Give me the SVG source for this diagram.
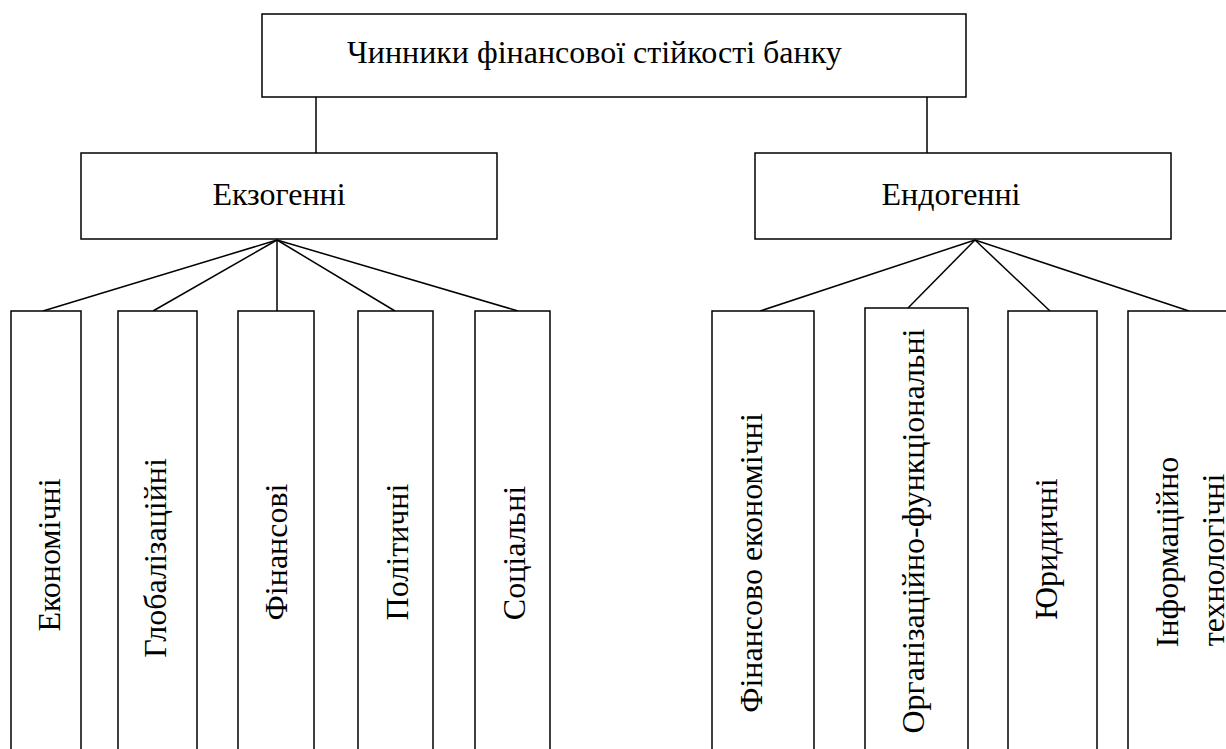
<svg xmlns="http://www.w3.org/2000/svg" width="1226" height="749" viewBox="0 0 1226 749">
<style>
.box{fill:#fff;stroke:#000;stroke-width:1.5}
.t{font-family:"Liberation Serif","Times New Roman",serif;font-size:32px;fill:#000}
.c{stroke:#000;stroke-width:1.5;fill:none}
</style>
<rect width="1226" height="749" fill="#fff"/>
<g id="connectors">
<line class="c" x1="316" y1="97" x2="316" y2="153"/>
<line class="c" x1="927" y1="97" x2="927" y2="153"/>
<line class="c" x1="277" y1="240" x2="43" y2="311"/>
<line class="c" x1="277" y1="240" x2="153" y2="311"/>
<line class="c" x1="277" y1="240" x2="277" y2="311"/>
<line class="c" x1="277" y1="240" x2="395" y2="311"/>
<line class="c" x1="277" y1="240" x2="518" y2="311"/>
<line class="c" x1="975" y1="240" x2="760" y2="311"/>
<line class="c" x1="975" y1="240" x2="908" y2="308"/>
<line class="c" x1="975" y1="240" x2="1050" y2="311"/>
<line class="c" x1="975" y1="240" x2="1189" y2="311"/>
</g>
<g id="root">
<rect class="box" x="262" y="14" width="704" height="83"/>
<text class="t" x="347" y="63">Чинники фінансової стійкості банку</text>
</g>
<g id="exo">
<rect class="box" x="81" y="153" width="416" height="86"/>
<text class="t" x="279" y="205" text-anchor="middle">Екзогенні</text>
</g>
<g id="endo">
<rect class="box" x="755" y="153" width="416" height="86"/>
<text class="t" x="951" y="205" text-anchor="middle">Ендогенні</text>
</g>
<g id="econ">
<rect class="box" x="11" y="311" width="70" height="460"/>
<text class="t" transform="translate(60,555) rotate(-90)" text-anchor="middle">Економічні</text>
</g>
<g id="glob">
<rect class="box" x="118" y="311" width="79" height="460"/>
<text class="t" transform="translate(166,558) rotate(-90)" text-anchor="middle">Глобалізаційні</text>
</g>
<g id="fin">
<rect class="box" x="238" y="311" width="76" height="460"/>
<text class="t" transform="translate(287,552) rotate(-90)" text-anchor="middle">Фінансові</text>
</g>
<g id="pol">
<rect class="box" x="358" y="311" width="75" height="460"/>
<text class="t" transform="translate(408,552) rotate(-90)" text-anchor="middle">Політичні</text>
</g>
<g id="soc">
<rect class="box" x="475" y="311" width="75" height="460"/>
<text class="t" transform="translate(525,553) rotate(-90)" text-anchor="middle">Соціальні</text>
</g>
<g id="fe">
<rect class="box" x="712" y="311" width="102" height="460"/>
<text class="t" transform="translate(762,563) rotate(-90)" text-anchor="middle">Фінансово економічні</text>
</g>
<g id="of">
<rect class="box" x="865" y="308" width="103" height="460"/>
<text class="t" transform="translate(924,531) rotate(-90)" text-anchor="middle">Організаційно-функціональні</text>
</g>
<g id="jur">
<rect class="box" x="1008" y="311" width="89" height="460"/>
<text class="t" transform="translate(1057,549) rotate(-90)" text-anchor="middle">Юридичні</text>
</g>
<g id="it">
<rect class="box" x="1128" y="311" width="140" height="460"/>
<text class="t" transform="translate(1178,552) rotate(-90)" text-anchor="middle">Інформаційно</text>
<text class="t" transform="translate(1224,560) rotate(-90)" text-anchor="middle">технологічні</text>
</g>
</svg>
